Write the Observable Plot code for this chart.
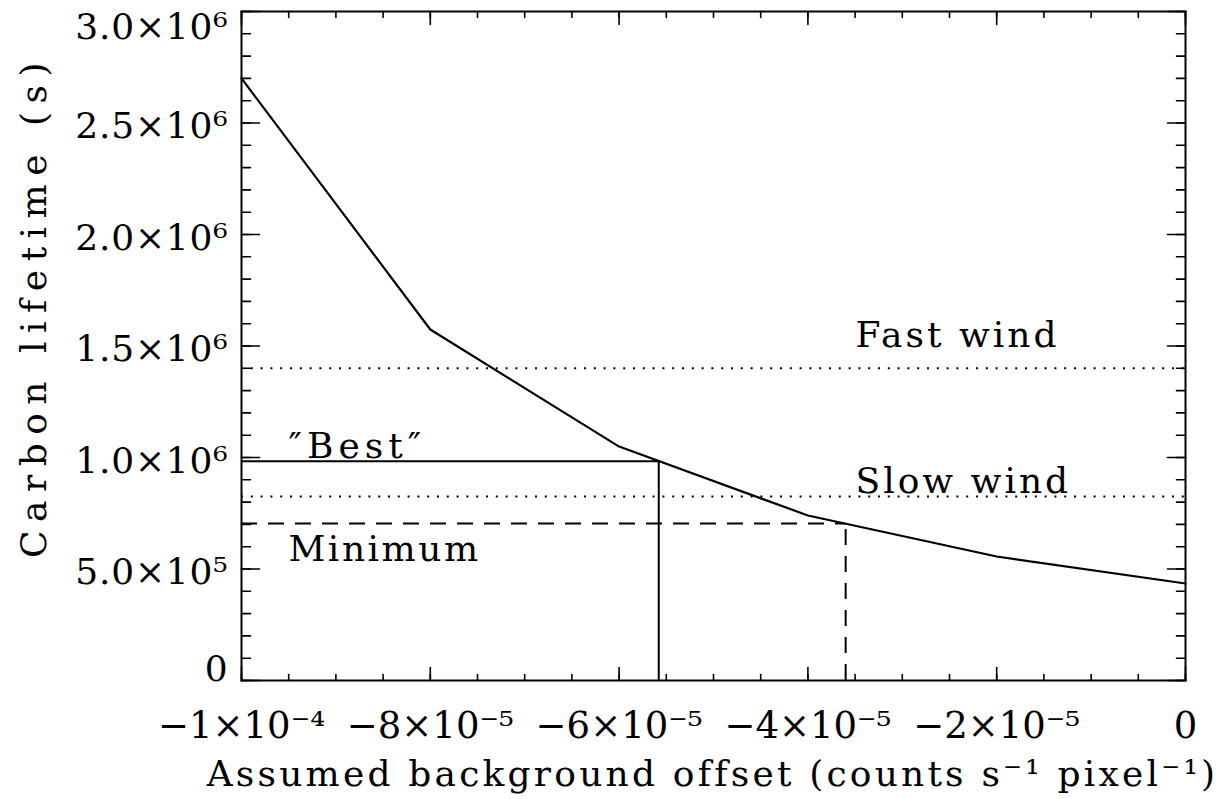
<!DOCTYPE html>
<html>
<head>
<meta charset="utf-8">
<script src="https://cdn.jsdelivr.net/npm/d3@7"></script>
<script src="https://cdn.jsdelivr.net/npm/@observablehq/plot@0.6"></script>
<style>
  html, body { margin: 0; padding: 0; background: #fff; }
  svg { display: block; }
</style>
</head>
<body>
<div id="chart"></div>
<script>
// ---- data ----
const offsets   = [-1e-4, -8e-5, -6e-5, -4e-5, -2e-5, 0];
const lifetimes = [2.70e6, 1.574e6, 1.049e6, 0.740e6, 0.556e6, 0.435e6];

const windNames  = ["Fast wind", "Slow wind"];
const windLevels = [1.40e6, 0.825e6];

const markNames = ["\u2033Best\u2033", "Minimum"];
const markX     = [-5.58e-5, -3.60e-5];
const markY     = [0.983e6, 0.704e6];

const xMajor = [-1e-4, -8e-5, -6e-5, -4e-5, -2e-5, 0];
const xMajorLabels = ["\u22121\u00d710\u207b\u2074", "\u22128\u00d710\u207b\u2075", "\u22126\u00d710\u207b\u2075", "\u22124\u00d710\u207b\u2075", "\u22122\u00d710\u207b\u2075", "0"];
const xMinor = d3.range(0, 21).map(i => -1e-4 + i * 5e-6);
const yMajor = [0, 5e5, 1e6, 1.5e6, 2e6, 2.5e6, 3e6];
const yMajorLabels = ["0", "5.0\u00d710\u2075", "1.0\u00d710\u2076", "1.5\u00d710\u2076", "2.0\u00d710\u2076", "2.5\u00d710\u2076", "3.0\u00d710\u2076"];
const yMinor = d3.range(0, 31).map(i => i * 1e5);

const xTitle = "Assumed background offset (counts s\u207b\u00b9 pixel\u207b\u00b9)";
const yTitle = "Carbon lifetime (s)";

// ---- derived tables ----
const curve = offsets.map((x, i) => ({x, y: lifetimes[i]}));
const winds = windNames.map((name, i) => ({name, y: windLevels[i]}));
const marks = markNames.map((name, i) => ({name, x: markX[i], y: markY[i]}));
const xTicks = xMajor.map((x, i) => ({x, label: xMajorLabels[i]}));
const yTicks = yMajor.map((y, i) => ({y, label: yMajorLabels[i]}));
const last = yTicks.length - 1;
const yLabelDy = yTicks.map((d, i) => i === 0 ? 0 : i === last ? 27 : 15);

const FONT = "DejaVu Serif";
const tickShape = { draw(ctx, l) { ctx.moveTo(0, 0); ctx.lineTo(0, -l); } };
const tk = (data, ch, anchor, rotate, length) =>
  Plot.vector(data, {[ch]: d => d, frameAnchor: anchor, rotate, length, anchor: "start",
    shape: tickShape, stroke: "black", strokeWidth: 1.6});

// letter-spacing applied to a text mark's group
const spaced = (px) => ({
  render(index, scales, values, dimensions, context, next) {
    const g = next(index, scales, values, dimensions, context);
    g.setAttribute("letter-spacing", px);
    return g;
  }
});

const annot = {textAnchor: "start", lineAnchor: "bottom", fontSize: 36, ...spaced(3)};

const chart = Plot.plot({
  width: 1230,
  height: 799,
  marginLeft: 241,
  marginRight: 45,
  marginTop: 11,
  marginBottom: 119,
  style: { fontFamily: FONT, background: "white", color: "black" },
  x: { domain: [-1e-4, 0], axis: null },
  y: { domain: [0, 3e6], axis: null },
  marks: [
    // ticks (inward, all four sides)
    tk(xMinor, "x", "bottom", 0, 6),
    tk(xMajor, "x", "bottom", 0, 13),
    tk(xMinor, "x", "top", 180, 6),
    tk(xMajor, "x", "top", 180, 13),
    tk(yMinor, "y", "left", 90, 9),
    tk(yMajor, "y", "left", 90, 18),
    tk(yMinor, "y", "right", -90, 9),
    tk(yMajor, "y", "right", -90, 18),
    // reference lines
    Plot.ruleY(winds, {y: "y", stroke: "black", strokeWidth: 2, strokeDasharray: "2,7.8"}),
    Plot.ruleY(marks.slice(0, 1), {y: "y", x1: -1e-4, x2: "x", stroke: "black", strokeWidth: 2}),
    Plot.ruleX(marks.slice(0, 1), {x: "x", y1: 0, y2: "y", stroke: "black", strokeWidth: 2}),
    Plot.ruleY(marks.slice(1), {y: "y", x1: -1e-4, x2: "x", stroke: "black", strokeWidth: 2, strokeDasharray: "16,11"}),
    Plot.ruleX(marks.slice(1), {x: "x", y1: 0, y2: "y", stroke: "black", strokeWidth: 2, strokeDasharray: "16,11"}),
    // curve
    Plot.line(curve, {x: "x", y: "y", stroke: "black", strokeWidth: 2.2}),
    // annotations
    Plot.text(winds.slice(0, 1), {y: "y", text: "name", frameAnchor: "right", dx: -330, dy: -21, ...annot}),
    Plot.text(winds.slice(1), {y: "y", text: "name", frameAnchor: "right", dx: -330, dy: -4, ...annot}),
    Plot.text(marks.slice(0, 1), {y: "y", text: "name", frameAnchor: "left", dx: 47, dy: -3, textAnchor: "start", lineAnchor: "bottom", fontSize: 36, ...spaced(5)}),
    Plot.text(marks.slice(1), {y: "y", text: "name", frameAnchor: "left", dx: 47, dy: 37, textAnchor: "start", lineAnchor: "bottom", fontSize: 36, ...spaced(2.5)}),
    // tick labels
    Plot.text(xTicks, {x: "x", text: "label", frameAnchor: "bottom", dy: 57, lineAnchor: "bottom", fontSize: 37}),
    ...yTicks.map((t, i) => Plot.text([t], {y: "y", text: "label", frameAnchor: "left", dx: -13, dy: yLabelDy[i], textAnchor: "end", lineAnchor: "bottom", fontSize: 36, ...spaced(0.8)})),
    // axis titles
    Plot.text([xTitle], {frameAnchor: "bottom", dx: -1, dy: 105, textAnchor: "middle", lineAnchor: "bottom", fontSize: 36, ...spaced(3.2)}),
    Plot.text([yTitle], {frameAnchor: "left", dx: -196, dy: -40, rotate: -90, textAnchor: "middle", lineAnchor: "bottom", fontSize: 36, ...spaced(8.5)}),
    Plot.frame({stroke: "black", strokeWidth: 2})
  ]
});
document.getElementById("chart").append(chart);
</script>
</body>
</html>
